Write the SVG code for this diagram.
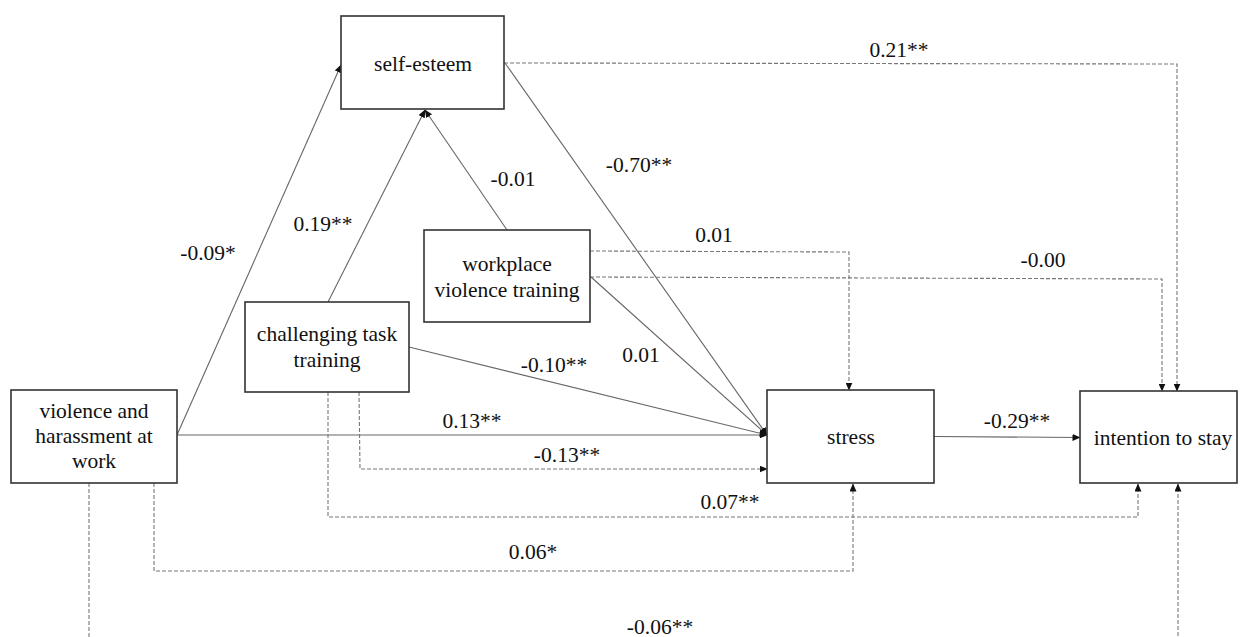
<svg xmlns="http://www.w3.org/2000/svg" width="1240" height="637" viewBox="0 0 1240 637">
<style>
.box{fill:#fff;stroke:#333;stroke-width:1.6}
.t{font-size:21.5px;fill:#111;text-anchor:middle}
.s{fill:none;stroke:#666;stroke-width:1.1}
.d{fill:none;stroke:#777;stroke-width:1.1;stroke-dasharray:4 2}
</style>
<defs>
<marker id="ah" markerUnits="userSpaceOnUse" markerWidth="8" markerHeight="7" refX="7.5" refY="3.5" orient="auto">
<path d="M0,0 L8,3.5 L0,7 Z" fill="#111"/>
</marker>
</defs>
<rect width="1240" height="637" fill="#fff"/>
<g id="connectors">
<line class="s" x1="177" y1="435" x2="341" y2="65" marker-end="url(#ah)"/>
<line class="s" x1="328" y1="302" x2="425" y2="110" marker-end="url(#ah)"/>
<line class="s" x1="507" y1="230" x2="425" y2="110" marker-end="url(#ah)"/>
<line class="s" x1="505" y1="63" x2="767" y2="435" marker-end="url(#ah)"/>
<line class="s" x1="591" y1="277" x2="767" y2="435" marker-end="url(#ah)"/>
<line class="s" x1="409" y1="347" x2="767" y2="435" marker-end="url(#ah)"/>
<line class="s" x1="177" y1="435" x2="767" y2="435" marker-end="url(#ah)"/>
<line class="s" x1="934" y1="436.5" x2="1080" y2="437.5" marker-end="url(#ah)"/>
<polyline class="d" points="359,392 360,469 767,469" marker-end="url(#ah)"/>
<polyline class="d" points="328,392 328,517 1138,517 1138,484" marker-end="url(#ah)"/>
<polyline class="d" points="154,483 154,571 853,571 853,484" marker-end="url(#ah)"/>
<polyline class="d" points="89,483 89,660 1178,660 1178,484" marker-end="url(#ah)"/>
<polyline class="d" points="504,63 1177,64 1177,391" marker-end="url(#ah)"/>
<polyline class="d" points="590,251 849,252 849,390" marker-end="url(#ah)"/>
<polyline class="d" points="590,277 1162,279 1162,391" marker-end="url(#ah)"/>
</g>
<g font-family="Liberation Serif, serif">
<g id="labels">
<text class="t" x="208" y="260">-0.09*</text>
<text class="t" x="323" y="231">0.19**</text>
<text class="t" x="513" y="186">-0.01</text>
<text class="t" x="639" y="172">-0.70**</text>
<text class="t" x="899" y="57">0.21**</text>
<text class="t" x="714" y="242">0.01</text>
<text class="t" x="1043" y="267">-0.00</text>
<text class="t" x="641" y="362">0.01</text>
<text class="t" x="554" y="372">-0.10**</text>
<text class="t" x="472" y="428">0.13**</text>
<text class="t" x="567" y="462">-0.13**</text>
<text class="t" x="1017" y="428">-0.29**</text>
<text class="t" x="730" y="509">0.07**</text>
<text class="t" x="533" y="559">0.06*</text>
<text class="t" x="660" y="634">-0.06**</text>
</g>
<g id="self-esteem">
<rect class="box" x="341" y="16" width="163" height="93"/>
<text class="t" x="423" y="71">self-esteem</text>
</g>
<g id="challenging-task-training">
<rect class="box" x="245" y="302" width="164" height="90"/>
<text class="t" x="327" y="341">challenging task</text>
<text class="t" x="327" y="367">training</text>
</g>
<g id="workplace-violence-training">
<rect class="box" x="424" y="230" width="166" height="92"/>
<text class="t" x="507" y="271">workplace</text>
<text class="t" x="507" y="297">violence training</text>
</g>
<g id="violence-harassment">
<rect class="box" x="11" y="390" width="166" height="93"/>
<text class="t" x="94" y="418">violence and</text>
<text class="t" x="94" y="443">harassment at</text>
<text class="t" x="94" y="468">work</text>
</g>
<g id="stress">
<rect class="box" x="767" y="390" width="167" height="93"/>
<text class="t" x="851" y="444">stress</text>
</g>
<g id="intention-to-stay">
<rect class="box" x="1080" y="391" width="157" height="92"/>
<text class="t" x="1163" y="445">intention to stay</text>
</g>
</g>
</svg>
